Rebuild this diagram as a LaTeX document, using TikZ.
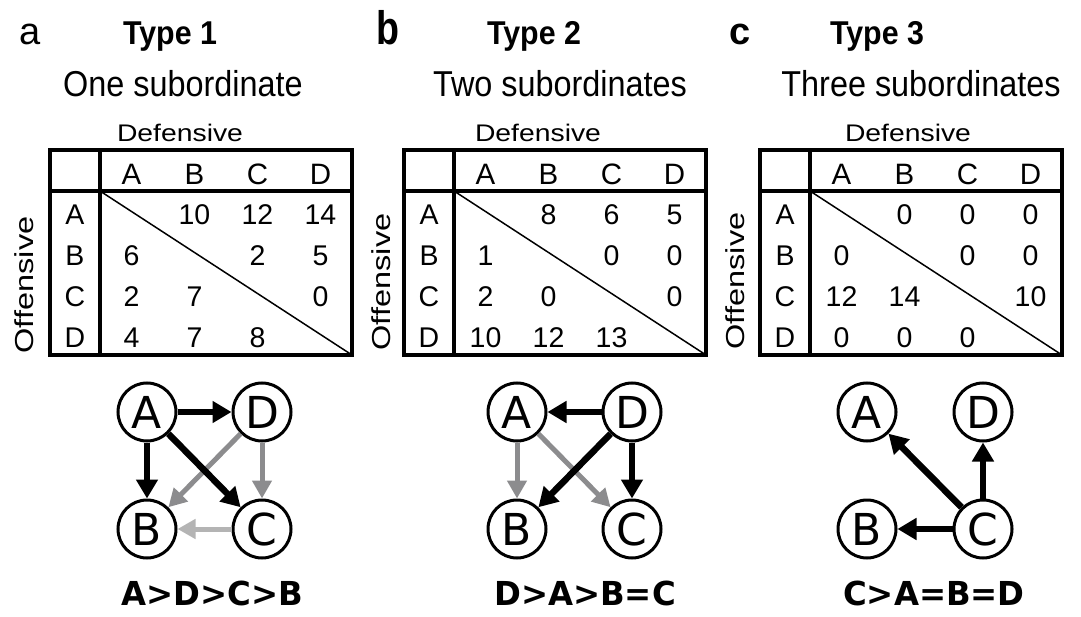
\documentclass[tikz,border=0pt]{standalone}
\usepackage{fontspec}
\setmainfont{Liberation Sans}
\newfontfamily\narrowfont{Liberation Sans}[FakeStretch=0.9]
\newfontfamily\typefont{Liberation Sans}[FakeStretch=0.92]
\newfontfamily\bnarrow{Liberation Sans}[FakeStretch=0.8]
\newfontfamily\widefont{Liberation Sans}[FakeStretch=1.18]
\newfontfamily\offfont{Liberation Sans}[FakeStretch=1.25]
\newfontfamily\djv{DejaVu Sans}
\newfontfamily\djvlabel{DejaVu Sans}[FakeStretch=0.98]
\usetikzlibrary{arrows.meta}
\definecolor{gmid}{RGB}{140,140,142}
\definecolor{glight}{RGB}{180,180,180}

\newcommand{\dtable}[3]{%
\begin{scope}[xshift=#1pt]
  \draw[tblout] (0,150) rectangle (302,355);
  \draw[tblin] (0,191) -- (302,191);
  \draw[tblin] (50,150) -- (50,355);
  \draw[tbldiag] (50,191) -- (302,355);
  \foreach \l [count=\i] in {A,B,C,D} {
    \node[hdr] (#2h\l) at ({50+63*(\i-0.5)},174) {\l};
    \node[cell] (#2r\l) at (25,{215+41*(\i-1)}) {\l};
  }
  \foreach \c/\r/\v in {#3} {
    \node[cell] (#2n\r\c) at ({50+63*(\c-0.5)},{215+41*(\r-1)}) {\v};
  }
\end{scope}}

\begin{document}
\begin{tikzpicture}[x=1pt,y=-1pt,
  tblout/.style={line width=4.3pt},
  tblin/.style={line width=3.3pt},
  tbldiag/.style={line width=1.5pt},
  hdr/.style={inner sep=0pt,font=\fontsize{29.5}{31}\selectfont},
  cell/.style={inner sep=0pt,font=\fontsize{28.5}{30}\selectfont},
  plab/.style={anchor=base west,inner sep=0pt},
  typ/.style={anchor=base,inner sep=0pt,font=\typefont\bfseries\fontsize{33}{35}\selectfont},
  sub/.style={anchor=base,inner sep=0pt,font=\narrowfont\fontsize{36}{38}\selectfont},
  def/.style={anchor=base,inner sep=0pt,font=\widefont\fontsize{24}{26}\selectfont},
  off/.style={rotate=90,inner sep=0pt,font=\offfont\fontsize{26}{28}\selectfont},
  vtx/.style={circle,draw,line width=3pt,minimum size=58pt,inner sep=0pt,font=\djv\fontsize{44}{46}\selectfont},
  blk/.style={line width=6.5pt,-{Triangle[length=19pt,width=21pt]}},
  gry/.style={line width=5pt,draw=gmid,-{Triangle[length=18pt,width=19pt]}},
  lgry/.style={line width=5pt,draw=glight,-{Triangle[length=18pt,width=19pt]}},
  rank/.style={anchor=base,inner sep=0pt,font=\djvlabel\bfseries\fontsize{33}{35}\selectfont}
]
\useasboundingbox (0,0) rectangle (1081,617);

% panel letters and titles
\node[plab,font=\fontsize{38}{40}\selectfont] (la) at (19,45) {a};
\node[plab,font=\bnarrow\bfseries\fontsize{47}{49}\selectfont] (lb) at (376,45) {b};
\node[plab,font=\bfseries\fontsize{38}{40}\selectfont] (lc) at (729,45) {c};
\node[typ] (ta) at (170,45) {Type 1};
\node[typ] (tb) at (534,45) {Type 2};
\node[typ] (tc) at (877,45) {Type 3};
\node[sub] (sa) at (183,97) {One subordinate};
\node[sub] (sb) at (560,97) {Two subordinates};
\node[sub] (sc) at (921,97) {Three subordinates};
\node[def] (da) at (180,142) {Defensive};
\node[def] (db) at (538,142) {Defensive};
\node[def] (dc) at (908,142) {Defensive};
\node[off] (oa) at (24,285) {Offensive};
\node[off] (ob) at (381,282) {Offensive};
\node[off] (oc) at (735,281) {Offensive};

% tables
\dtable{50}{ta}{2/1/10,3/1/12,4/1/14,1/2/6,3/2/2,4/2/5,1/3/2,2/3/7,4/3/0,1/4/4,2/4/7,3/4/8}
\dtable{404}{tb}{2/1/8,3/1/6,4/1/5,1/2/1,3/2/0,4/2/0,1/3/2,2/3/0,4/3/0,1/4/10,2/4/12,3/4/13}
\dtable{760}{tc}{2/1/0,3/1/0,4/1/0,1/2/0,3/2/0,4/2/0,1/3/12,2/3/14,4/3/10,1/4/0,2/4/0,3/4/0}

% graph a
\node[vtx] (aA) at (147,412) {A};
\node[vtx] (aD) at (262,412) {D};
\node[vtx] (aB) at (147,529) {B};
\node[vtx] (aC) at (262,529) {C};
\draw[gry] (aD) -- (aB);
\draw[gry] (aD) -- (aC);
\draw[lgry] (aC) -- (aB);
\draw[blk] (aA) -- (aD);
\draw[blk] (aA) -- (aB);
\draw[blk] (aA) -- (aC);
\node[rank] (ra) at (212,605) {A>D>C>B};

% graph b
\node[vtx] (bA) at (517,412) {A};
\node[vtx] (bD) at (632,412) {D};
\node[vtx] (bB) at (517,529) {B};
\node[vtx] (bC) at (632,529) {C};
\draw[gry] (bA) -- (bB);
\draw[gry] (bA) -- (bC);
\draw[blk] (bD) -- (bA);
\draw[blk] (bD) -- (bB);
\draw[blk] (bD) -- (bC);
\node[rank] (rb) at (585,605) {D>A>B=C};

% graph c
\node[vtx] (cA) at (867,412) {A};
\node[vtx] (cD) at (983,412) {D};
\node[vtx] (cB) at (867,529) {B};
\node[vtx] (cC) at (983,529) {C};
\draw[blk] (cC) -- (cA);
\draw[blk] (cC) -- (cD);
\draw[blk] (cC) -- (cB);
\node[rank] (rc) at (934,605) {C>A=B=D};
\end{tikzpicture}
\end{document}
